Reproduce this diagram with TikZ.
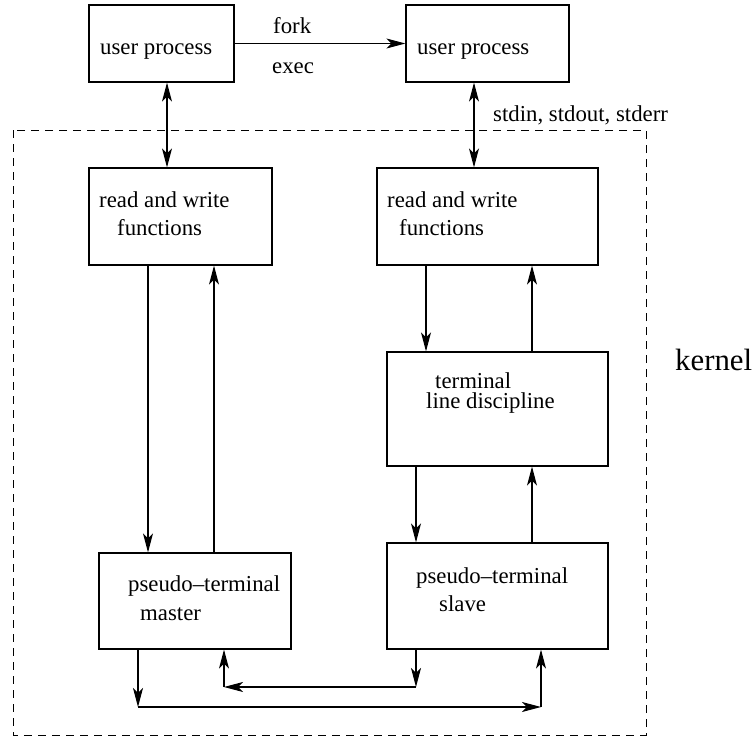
\documentclass[tikz,border=0pt]{standalone}
\usepackage{fontspec}
\setmainfont{Liberation Serif}
\usetikzlibrary{arrows.meta}

\tikzset{
  box/.style={draw, line width=1.2pt, inner sep=0pt},
  lbl/.style={font=\fontsize{22.8pt}{24pt}\selectfont, inner sep=0pt, anchor=base west},
  tip/.tip={Stealth[length=19pt,width=10pt,inset=5pt]},
  arr/.style={line width=1.1pt, -tip},
  dblarr/.style={line width=1.1pt, tip-tip},
  kernbox/.style={line width=1pt, dash pattern=on 8pt off 6pt},
}

\begin{document}
\begin{tikzpicture}[x=1pt,y=-1pt]
\useasboundingbox (0,0) rectangle (753,736);

\draw[kernbox] (13,130) rectangle (646,735);
\node[lbl, font=\fontsize{30.8pt}{32pt}\selectfont] (kern) at (675,370) {kernel};

\node[box, minimum width=145pt, minimum height=77pt] (up1) at (161.5,43.5) {};
\node[box, minimum width=163pt, minimum height=77pt] (up2) at (487.5,43.5) {};
\node[box, minimum width=183pt, minimum height=97pt] (rw1) at (180.5,216.5) {};
\node[box, minimum width=221pt, minimum height=97pt] (rw2) at (487.5,216.5) {};
\node[box, minimum width=221pt, minimum height=114pt] (ld) at (497.5,409) {};
\node[box, minimum width=192pt, minimum height=96pt] (ptm) at (195,601) {};
\node[box, minimum width=221pt, minimum height=106pt] (pts) at (497.5,596) {};

\node[lbl] (tup1) at (100,54) {user process};
\node[lbl] (tup2) at (417,54) {user process};
\node[lbl] (fork) at (273,33) {fork};
\node[lbl] (exec) at (272,73) {exec};
\node[lbl] (std) at (493,121) {stdin, stdout, stderr};
\node[lbl] (trw1a) at (99,207) {read and write};
\node[lbl] (trw1b) at (117,235) {functions};
\node[lbl] (trw2a) at (387,207) {read and write};
\node[lbl] (trw2b) at (399,235) {functions};
\node[lbl] (tlda) at (435,388) {terminal};
\node[lbl] (tldb) at (426,408) {line discipline};
\node[lbl] (tptma) at (128,591) {pseudo--terminal};
\node[lbl] (tptmb) at (140,620) {master};
\node[lbl] (tptsa) at (416,583) {pseudo--terminal};
\node[lbl] (tptsb) at (439,611) {slave};

\draw[arr] (up1.east) -- (up2.west);
\draw[dblarr] (up1.south -| 167,0) -- (rw1.north -| 167,0);
\draw[dblarr] (up2.south -| 474,0) -- (rw2.north -| 474,0);

\draw[arr] (rw1.south -| 148,0) -- (ptm.north -| 148,0);
\draw[arr] (ptm.north -| 214,0) -- (rw1.south -| 214,0);
\draw[arr] (rw2.south -| 426,0) -- (ld.north -| 426,0);
\draw[arr] (ld.north -| 532,0) -- (rw2.south -| 532,0);
\draw[arr] (ld.south -| 416,0) -- (pts.north -| 416,0);
\draw[arr] (pts.north -| 532,0) -- (ld.south -| 532,0);

% master to slave along the bottom
\coordinate (ma) at (138,707);
\coordinate (mb) at (541,707);
\draw[arr] (ptm.south -| ma) -- (ma);
\draw[arr] (ma) -- (mb);
\draw[arr] (mb) -- (pts.south -| mb);

% slave back to master
\coordinate (sa) at (416,687);
\coordinate (sb) at (224,687);
\draw[arr] (pts.south -| sa) -- (sa);
\draw[arr] (sa) -- (sb);
\draw[arr] (sb) -- (ptm.south -| sb);

\end{tikzpicture}
\end{document}
